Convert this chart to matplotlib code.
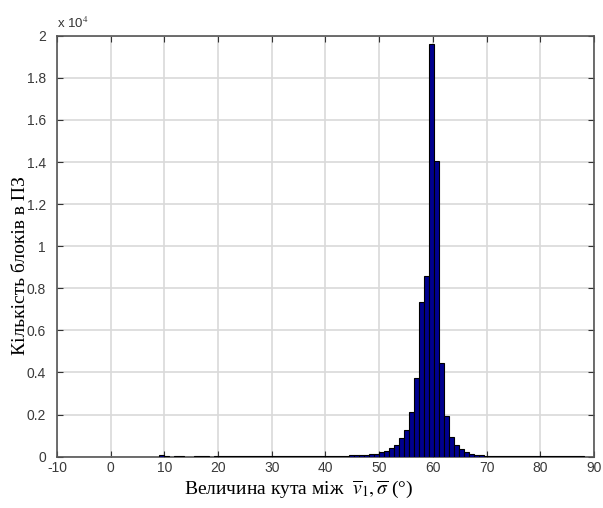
import numpy as np
import matplotlib
matplotlib.use("Agg")
import matplotlib.pyplot as plt

plt.rcParams["mathtext.fontset"] = "stix"
plt.rcParams["axes.unicode_minus"] = False

# histogram of the angle between v1 and sigma (MATLAB-style hist output)
bin_width = 0.93
first_edge = 9.08

counts = [
    80, 30, 0, 20, 20, 0, 0, 15, 20, 15,
    0, 25, 25, 30, 25, 30, 30, 25, 30, 30,
    30, 35, 30, 30, 35, 30, 35, 35, 30, 35,
    35, 40, 35, 40, 40, 45, 45, 50, 60, 70,
    80, 100, 110, 130, 220, 280, 400, 560, 870, 1270,
    2140, 3720, 7360, 8580, 19600, 14060, 4440, 1940, 950, 560,
    350, 220, 140, 90, 60, 45, 40, 35, 30, 30,
    25, 25, 20, 20, 20, 20, 18, 18, 15, 15,
    15, 15, 12, 12, 12,
]

x_ticks = [-10, 0, 10, 20, 30, 40, 50, 60, 70, 80, 90]
y_ticks = [0, 2000, 4000, 6000, 8000, 10000, 12000, 14000, 16000, 18000, 20000]
y_tick_labels = ["0", "0.2", "0.4", "0.6", "0.8", "1", "1.2", "1.4", "1.6", "1.8", "2"]

counts = np.array(counts, dtype=float)
lefts = first_edge + bin_width * np.arange(len(counts))
mask = counts > 0

fig = plt.figure(figsize=(6.03, 5.08), dpi=100)
ax = fig.add_axes([0.0945, 0.101, 0.8905, 0.8287])

ax.bar(lefts[mask], counts[mask], width=bin_width, align="edge",
       color="#00008F", edgecolor="black", linewidth=0.8, zorder=3)

ax.set_xlim(-10, 90)
ax.set_ylim(0, 20000)
ax.set_xticks(x_ticks)
ax.set_yticks(y_ticks)
ax.set_yticklabels(y_tick_labels)

ax.grid(True, color="#d9d9d9", linewidth=1.2, zorder=0)
ax.set_axisbelow(True)
ax.tick_params(direction="in", length=4, top=True, right=True,
               labelsize=10, labelcolor="#3a3a3a", color="#333333")
ax.tick_params(axis="x", pad=3)
ax.tick_params(axis="y", pad=8)
for lab in ax.get_xticklabels() + ax.get_yticklabels():
    lab.set_family("Liberation Sans")
for sp in ax.spines.values():
    sp.set_color("#555555")
    sp.set_linewidth(1.2)

ax.text(0.0, 1.012, r"x 10$^4$", transform=ax.transAxes, fontsize=9.5,
        color="#333333", family="Liberation Sans", va="bottom", ha="left")

ax.set_xlabel(r"Величина кута між  $\overline{v}_1, \overline{\sigma}$ (°)",
              family="Liberation Serif", fontsize=14, labelpad=2)
ax.xaxis.set_label_coords(0.45, -0.052)
ax.set_ylabel("Кількість блоків в ПЗ", family="Liberation Serif", fontsize=14)
ax.yaxis.set_label_coords(-0.053, 0.455)

fig.savefig("out.png", dpi=100)
